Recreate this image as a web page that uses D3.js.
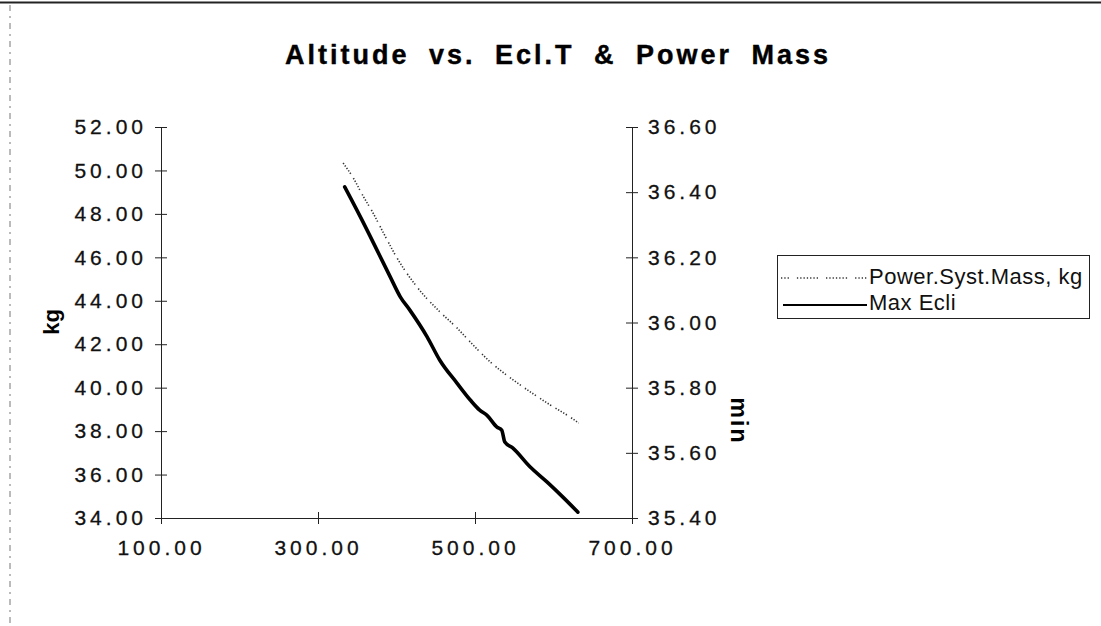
<!DOCTYPE html>
<html>
<head>
<meta charset="utf-8">
<script src="https://cdn.jsdelivr.net/npm/d3@7"></script>
<style>
  body { margin: 0; background: #fff; }
  svg { display: block; }
</style>
</head>
<body>
<svg width="1101" height="626"></svg>
<script>
// altitude (x) and power system mass, kg (left axis)
const altPower = [332, 345, 357, 370, 383, 401, 426, 455, 477, 494, 519, 545, 574, 596, 621, 632];
const powerMass = [50.34, 49.65, 48.85, 48.05, 47.15, 45.95, 44.64, 43.50, 42.75, 42.10, 41.20, 40.45, 39.72, 39.20, 38.65, 38.37];
// altitude (x) and max eclipse time, min (right axis)
const altEcli = [334, 354, 375, 392, 405, 417, 439, 455, 477, 494, 506, 515, 528, 534, 538, 548, 570, 592, 612, 631];
const maxEcli = [36.416, 36.324, 36.223, 36.140, 36.078, 36.038, 35.956, 35.885, 35.814, 35.762, 35.731, 35.716, 35.679, 35.670, 35.633, 35.615, 35.557, 35.510, 35.464, 35.418];
// tick labels
const xTicks = [100, 300, 500, 700];
const kgTicks = [34, 36, 38, 40, 42, 44, 46, 48, 50, 52];
const minTicks = [35.4, 35.6, 35.8, 36.0, 36.2, 36.4, 36.6];
const seriesNames = ['Power.Syst.Mass, kg', 'Max Ecli'];

const font = '"Liberation Sans", Arial, Helvetica, sans-serif';
const svg = d3.select('svg');

// plot box
const plot = {left: 161, right: 632, top: 127, bottom: 518};

const x = d3.scaleLinear().domain([100, 700]).range([plot.left, plot.right]);
const yKg = d3.scaleLinear().domain([34, 52]).range([plot.bottom, plot.top]);
const yMin = d3.scaleLinear().domain([35.4, 36.6]).range([plot.bottom, plot.top]);
const fmt = d3.format('.2f');

// scanned page frame: top rule and faint left edge
svg.append('line')
    .attr('x1', 0).attr('x2', 1101).attr('y1', 2.5).attr('y2', 2.5)
    .attr('stroke', '#222').attr('stroke-width', 2);
svg.append('line')
    .attr('x1', 10).attr('x2', 10).attr('y1', 5).attr('y2', 626)
    .attr('stroke', '#777').attr('stroke-width', 1)
    .attr('stroke-dasharray', '6,5,2,5');

// title
svg.append('text')
    .attr('x', 558).attr('y', 64)
    .attr('text-anchor', 'middle')
    .attr('font-family', font)
    .attr('font-size', '27px')
    .attr('font-weight', 'bold')
    .attr('letter-spacing', '3px')
    .attr('word-spacing', '9px')
    .attr('stroke', '#000')
    .attr('stroke-width', 0.4)
    .text('Altitude vs. Ecl.T & Power Mass');

// axes, ticks crossing the axis line
const styleAxis = (g, cross) => {
  g.select('.domain').attr('stroke', '#222');
  g.selectAll('.tick line').attr('stroke', '#222').call(cross);
  g.selectAll('.tick text')
      .attr('font-family', font)
      .attr('font-size', '21px')
      .attr('letter-spacing', '4px')
      .attr('fill', '#111')
      .attr('stroke', '#111')
      .attr('stroke-width', 0.3);
};

svg.append('g')
    .attr('transform', `translate(${plot.left},0)`)
    .call(d3.axisLeft(yKg).tickValues(kgTicks).tickFormat(fmt).tickSize(6).tickPadding(8).tickSizeOuter(0))
    .call(g => styleAxis(g, l => l.attr('x1', 6)));

svg.append('g')
    .attr('transform', `translate(${plot.right},0)`)
    .call(d3.axisRight(yMin).tickValues(minTicks).tickFormat(fmt).tickSize(6).tickPadding(10).tickSizeOuter(0))
    .call(g => styleAxis(g, l => l.attr('x1', -6)));

svg.append('g')
    .attr('transform', `translate(0,${plot.bottom})`)
    .call(d3.axisBottom(x).tickValues(xTicks).tickFormat(fmt).tickSize(6).tickPadding(16).tickSizeOuter(0))
    .call(g => styleAxis(g, l => l.attr('y1', -6)));

// axis titles
svg.append('text')
    .attr('transform', 'translate(59,322) rotate(-90)')
    .attr('text-anchor', 'middle')
    .attr('font-family', font)
    .attr('font-size', '22px')
    .attr('font-weight', 'bold')
    .text('kg');
svg.append('text')
    .attr('transform', 'translate(731,421) rotate(90)')
    .attr('text-anchor', 'middle')
    .attr('font-family', font)
    .attr('font-size', '23px')
    .attr('font-weight', 'bold')
    .attr('letter-spacing', '2px')
    .text('min');

// series lines
const dotted = '1.3,1.7,1.3,1.7,1.3,1.7,1.3,1.7,1.3,5';
const powerLine = d3.line().x((d, i) => x(altPower[i])).y(d => yKg(d)).curve(d3.curveMonotoneX);
const ecliLine = d3.line().x((d, i) => x(altEcli[i])).y(d => yMin(d)).curve(d3.curveMonotoneX);

svg.append('path')
    .datum(powerMass)
    .attr('d', powerLine)
    .attr('fill', 'none')
    .attr('stroke', '#333')
    .attr('stroke-width', 1.6)
    .attr('stroke-dasharray', dotted);

svg.append('path')
    .datum(maxEcli)
    .attr('d', ecliLine)
    .attr('fill', 'none')
    .attr('stroke', '#000')
    .attr('stroke-width', 3.6)
    .attr('stroke-linecap', 'round');

// legend
const legend = svg.append('g');
legend.append('rect')
    .attr('x', 777.5).attr('y', 255.5)
    .attr('width', 312).attr('height', 63)
    .attr('fill', 'none')
    .attr('stroke', '#222');
legend.append('line')
    .attr('x1', 781).attr('x2', 867).attr('y1', 278).attr('y2', 278)
    .attr('stroke', '#333').attr('stroke-width', 1.6)
    .attr('stroke-dasharray', '1.3,2,1.3,2,1.3,8,1.3,2,1.3,2,1.3,2,1.3,2');
legend.append('line')
    .attr('x1', 783).attr('x2', 867).attr('y1', 305).attr('y2', 305)
    .attr('stroke', '#000').attr('stroke-width', 2.2);
legend.selectAll('text.lbl')
    .data(seriesNames)
    .enter().append('text')
    .attr('class', 'lbl')
    .attr('x', 869)
    .attr('y', (d, i) => 284 + i * 26)
    .attr('font-family', font)
    .attr('font-size', '22px')
    .attr('letter-spacing', '0.5px')
    .attr('fill', '#111')
    .text(d => d);
</script>
</body>
</html>
